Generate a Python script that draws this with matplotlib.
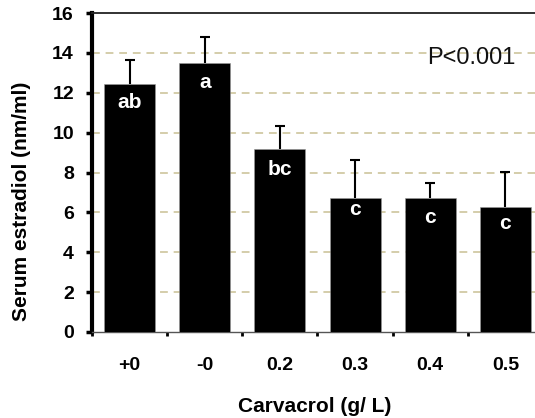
import matplotlib
matplotlib.use("Agg")
import numpy as np
import matplotlib.pyplot as plt

plt.rcParams['font.family'] = ['Liberation Sans', 'DejaVu Sans']

# data
doses = ['+0', '-0', '0.2', '0.3', '0.4', '0.5']
estradiol = [12.42, 13.5, 9.2, 6.7, 6.7, 6.27]
sem = [1.22, 1.3, 1.12, 1.93, 0.79, 1.74]
letters = ['ab', 'a', 'bc', 'c', 'c', 'c']
yticks = [0, 2, 4, 6, 8, 10, 12, 14, 16]

# vertical offset of the letter baseline below the bar top (data units)
letter_drop = [1.2, 1.28, 1.34, 0.85, 1.23, 1.11]

fig = plt.figure(figsize=(5.35, 4.18), dpi=100)
ax = fig.add_axes([92 / 535, 86 / 418, 451 / 535, 319 / 418])

x = np.arange(len(doses))
ax.bar(x, estradiol, width=0.68, color='black', edgecolor='#9a9a9a',
       linewidth=0.4, zorder=3)
eb = ax.errorbar(x, estradiol, yerr=[np.zeros(len(sem)), sem], fmt='none',
                 ecolor='black', elinewidth=1.5, capsize=3.8, capthick=1.5,
                 zorder=2)
# only the upper cap is drawn in the original
for cap in eb[1]:
    if np.allclose(cap.get_ydata(), estradiol):
        cap.set_visible(False)

for xi, v, lab, d in zip(x, estradiol, letters, letter_drop):
    ax.text(xi, v - d, lab, ha='center', va='baseline', color='white',
            fontsize=15, fontweight='bold', zorder=4)

ax.text(4.55, 13.72, 'P<0.001', ha='center', va='center', fontsize=17,
        color='#111111', zorder=4)

ax.set_xlim(-0.5, 5.5)
ax.set_ylim(0, 16)
ax.set_yticks(yticks)
ax.set_yticklabels([str(t) for t in yticks], fontsize=14, fontweight='bold')
ax.set_xticks(x)
ax.set_xticklabels(doses, fontsize=14, fontweight='bold')
ax.set_xticks(np.arange(-0.5, 6, 1), minor=True)

# horizontal dashed grid lines
for t in yticks[1:-1]:
    ax.axhline(t, color='#d4cdaa', linewidth=1.4, linestyle=(0, (4, 3)),
               zorder=1)

ax.tick_params(axis='y', direction='out', length=4, width=2.5, pad=9)
ax.tick_params(axis='x', which='major', length=0, pad=18)
ax.tick_params(axis='x', which='minor', direction='out', length=3, width=2)

ax.spines['left'].set_linewidth(3)
ax.spines['top'].set_linewidth(1.3)
ax.spines['top'].set_color('#222222')
ax.spines['bottom'].set_linewidth(1)
ax.spines['bottom'].set_color('#555555')
ax.spines['right'].set_visible(False)

ax.set_ylabel('Serum estradiol (nm/ml)', fontsize=15, fontweight='bold')
ax.yaxis.set_label_coords(-0.135, 0.41)
ax.set_xlabel('Carvacrol (g/ L)', fontsize=15, fontweight='bold')
ax.xaxis.set_label_coords(0.494, -0.205)

fig.savefig('out.png', dpi=100)
